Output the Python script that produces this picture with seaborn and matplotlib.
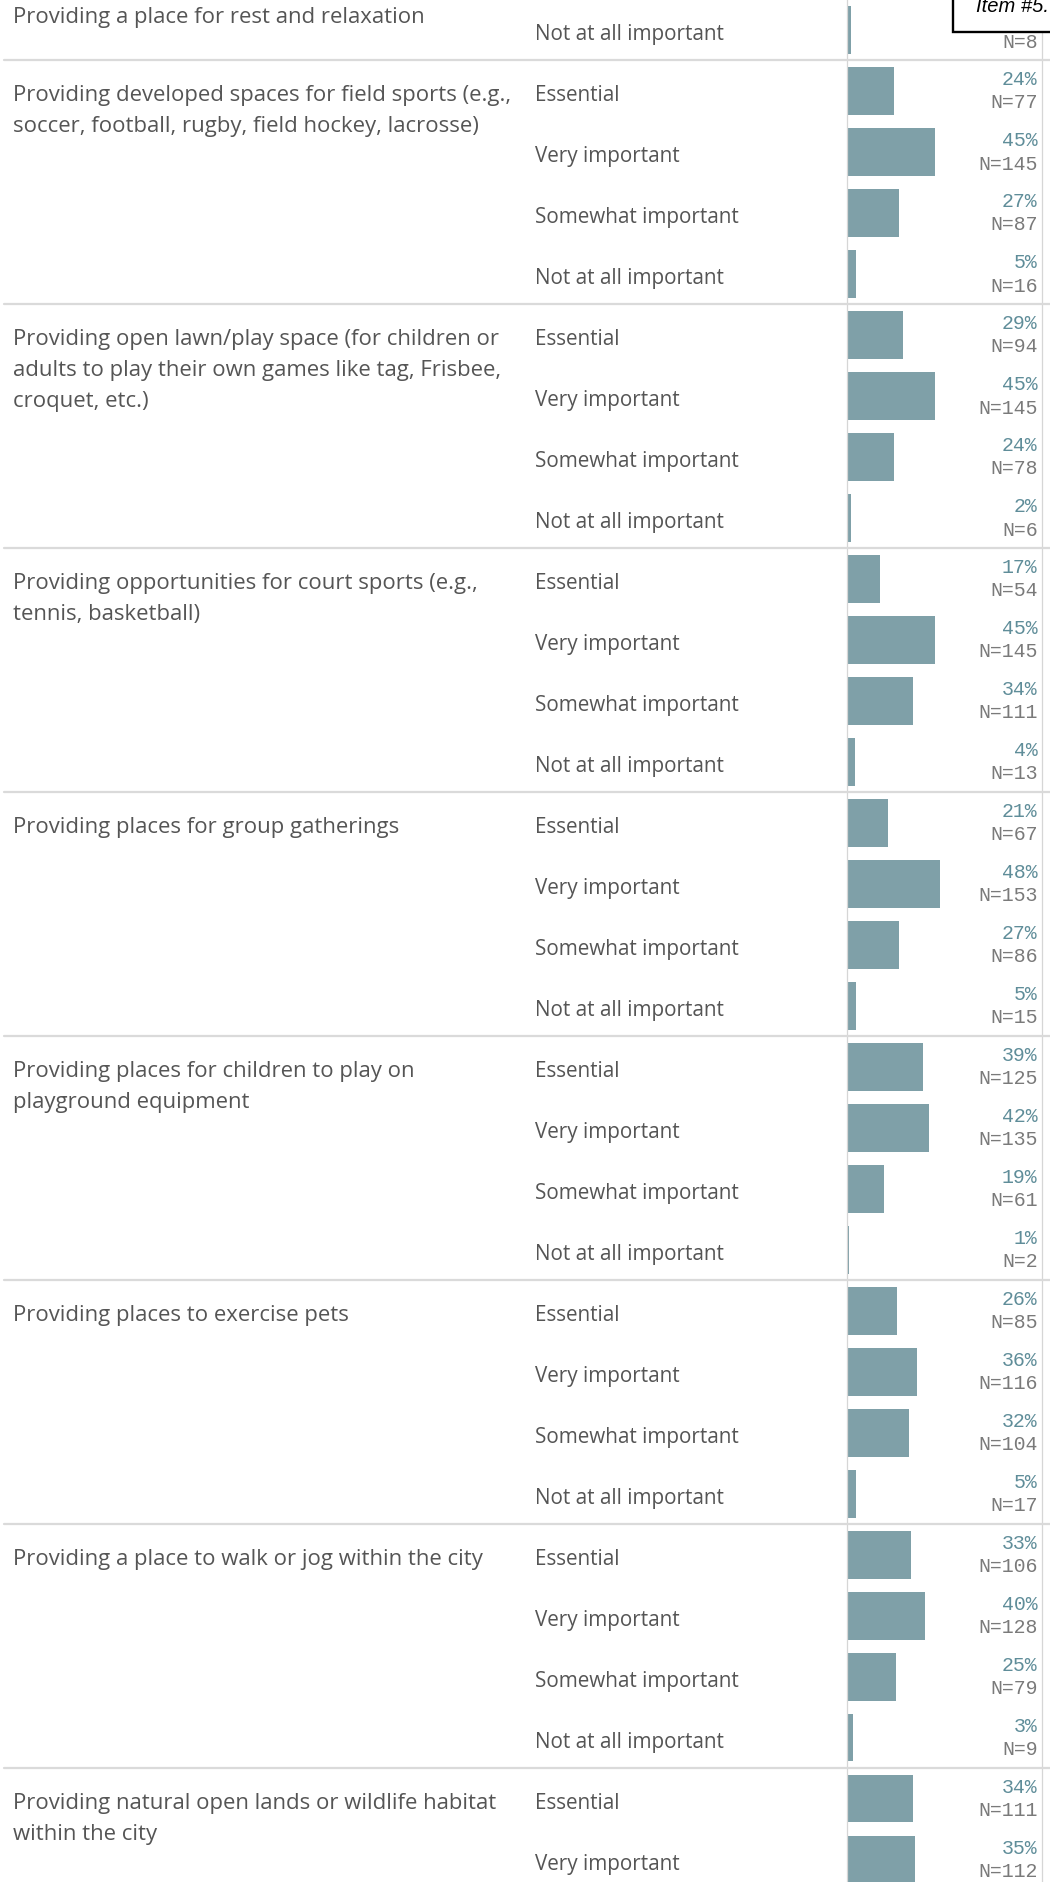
import matplotlib
matplotlib.use("Agg")
import matplotlib.pyplot as plt
import matplotlib.transforms as mtransforms
from matplotlib.lines import Line2D
from matplotlib.patches import Rectangle
import pandas as pd
import seaborn as sns

# ---- data -------------------------------------------------------------
topics = [
    "Providing a place for rest and relaxation",
    "Providing developed spaces for field sports (e.g.,\nsoccer, football, rugby, field hockey, lacrosse)",
    "Providing open lawn/play space (for children or\nadults to play their own games like tag, Frisbee,\ncroquet, etc.)",
    "Providing opportunities for court sports (e.g.,\ntennis, basketball)",
    "Providing places for group gatherings",
    "Providing places for children to play on\nplayground equipment",
    "Providing places to exercise pets",
    "Providing a place to walk or jog within the city",
    "Providing natural open lands or wildlife habitat\nwithin the city",
]
responses = ["Essential", "Very important", "Somewhat important", "Not at all important"]

rest_pct = [2]
rest_n = [8]
field_pct = [24, 45, 27, 5]
field_n = [77, 145, 87, 16]
lawn_pct = [29, 45, 24, 2]
lawn_n = [94, 145, 78, 6]
court_pct = [17, 45, 34, 4]
court_n = [54, 145, 111, 13]
gather_pct = [21, 48, 27, 5]
gather_n = [67, 153, 86, 15]
play_pct = [39, 42, 19, 1]
play_n = [125, 135, 61, 2]
pets_pct = [26, 36, 32, 5]
pets_n = [85, 116, 104, 17]
walk_pct = [33, 40, 25, 3]
walk_n = [106, 128, 79, 9]
nature_pct = [34, 35]
nature_n = [111, 112]

group_pct = [rest_pct, field_pct, lawn_pct, court_pct, gather_pct,
             play_pct, pets_pct, walk_pct, nature_pct]
group_n = [rest_n, field_n, lawn_n, court_n, gather_n,
           play_n, pets_n, walk_n, nature_n]
group_resp = [responses[3:]] + [responses] * 7 + [responses[:2]]

records = []
for g, (topic, resp, pcts, ns) in enumerate(zip(topics, group_resp, group_pct, group_n)):
    for r, p, n in zip(resp, pcts, ns):
        records.append({"group": g, "topic": topic, "response": r,
                        "pct": p, "n": n, "row": f"row{len(records)}"})
df = pd.DataFrame(records)

# ---- figure -----------------------------------------------------------
W, H, DPI = 1050, 1883, 100
ROW_PX = 61
n_rows = len(df)

sns.set_theme(style="white")
plt.rcParams["font.family"] = ["Open Sans", "DejaVu Sans"]

fig = plt.figure(figsize=(W / DPI, H / DPI), dpi=DPI)
fig.patch.set_facecolor("white")

ax_left, ax_right = 846.7, 1042.0
total_h = n_rows * ROW_PX
ax = fig.add_axes([ax_left / W, (H - total_h) / H, (ax_right - ax_left) / W, total_h / H])

bar_color = "#7fa0a8"
sns.barplot(data=df, x="pct", y="row", order=list(df["row"]), orient="h",
            color=bar_color, saturation=1, width=48 / ROW_PX, linewidth=0, ax=ax)
ax.set_xlim(0, 100)
ax.set_ylim(n_rows - 0.5, -0.5)
ax.axis("off")

grid_col = "#d6d6d6"
for xv in (0, 100):
    ax.add_line(Line2D([xv, xv], [-0.5, n_rows - 0.5], color=grid_col,
                       lw=0.9, clip_on=False, zorder=1))

blend = mtransforms.blended_transform_factory(fig.transFigure, ax.transData)


def shifted(px_down):
    return blend + mtransforms.ScaledTranslation(0, -px_down / DPI, fig.dpi_scale_trans)


# group separators
row_idx = 0
bounds = []
for g in range(len(topics)):
    size = len(group_resp[g])
    if g > 0:
        bounds.append(row_idx - 0.5)
    row_idx += size
for b in bounds:
    ax.add_line(Line2D([4 / W, 1.0], [b, b], transform=blend, color="#dadada",
                       lw=1.6, clip_on=False, zorder=2))

text_col = "#555555"
topic_size = 15.9
resp_size = 14.9
line_gap = 31
mono = ["Liberation Mono", "DejaVu Sans Mono"]

# topic headers (first line sits on the first response row)
row_idx = 0
for g, topic in enumerate(topics):
    first = row_idx
    lines = topic.split("\n")
    base = 9.5 if g > 0 else -7
    for k, line in enumerate(lines):
        ax.text(13 / W, first, line, transform=shifted(base + k * line_gap),
                ha="left", va="baseline", fontsize=topic_size, color=text_col,
                clip_on=False)
    row_idx += len(group_resp[g])

# response labels and value annotations
for i, rec in df.iterrows():
    ax.text(535 / W, i, rec["response"], transform=shifted(9.5),
            ha="left", va="baseline", fontsize=resp_size, color=text_col, clip_on=False)
    if i > 0:  # the first row's percentage sits under the tooltip
        ax.text(1037.7 / W, i, f"{rec['pct']}%", transform=shifted(-6.5),
                ha="right", va="baseline", fontsize=14.3, color="#5f8d99",
                family=mono, clip_on=False, zorder=3)
    ax.text(1037.7 / W, i, f"N={rec['n']}", transform=shifted(17),
            ha="right", va="baseline", fontsize=14.3, color="#7a7a7a",
            family=mono, clip_on=False, zorder=3)

# hover tooltip box in the corner
box = Rectangle((953 / W, (H - 33) / H), 200 / W, 80 / H, transform=fig.transFigure,
                facecolor="white", edgecolor="black", lw=1.7, zorder=10, clip_on=False)
ax.add_patch(box)
ax.text(976 / W, (H - 12) / H, "Item #5.", transform=fig.transFigure, ha="left",
        va="baseline", fontsize=14.5, style="italic", color="black",
        family=["Liberation Sans", "DejaVu Sans"], zorder=11, clip_on=False)

fig.savefig("out.png", dpi=DPI, facecolor="white")
